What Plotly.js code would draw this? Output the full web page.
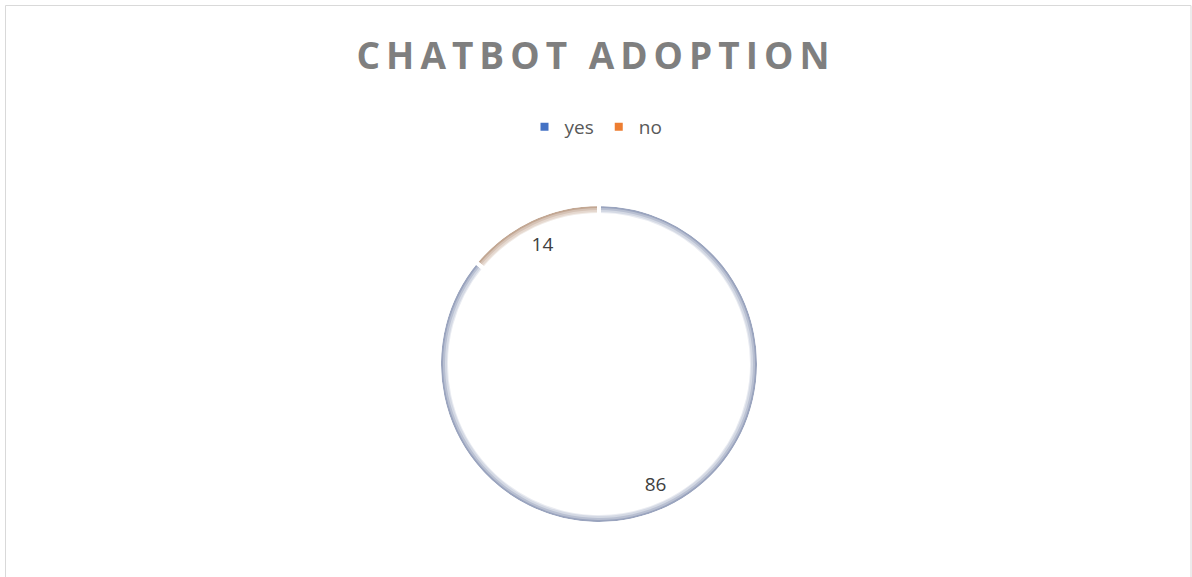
<!DOCTYPE html>
<html>
<head>
<meta charset="utf-8">
<script src="https://cdn.plot.ly/plotly-3.0.1.min.js"></script>
<style>
html,body{margin:0;padding:0;background:#fff;}
#chart{width:1192px;height:577px;}
.gtitle{letter-spacing:6px;}
</style>
</head>
<body>
<div id="chart"></div>
<script>
// Data
const categories = ['yes', 'no'];
const values = [86, 14];
const legendColors = ['#4472c4', '#ed7d31'];
const chartTitle = 'CHATBOT ADOPTION';

// Styling
const W = 1192, H = 577;
const cx = 599, cy = 364;
const FONT = 'Open Sans, Arial, sans-serif';
// rim shading layers, outer to inner (no strokes so they do not cover each other)
const layers = [
  {r: 158, colors: ['#9aa4be', '#c2a793']},
  {r: 156, colors: ['#b9c0d2', '#d6c3b6']},
  {r: 154, colors: ['#d4d9e4', '#e5d8cf']},
  {r: 152, colors: ['#eaecf2', '#f1ebe6']}
];
function dom(r) {
  return {x: [(cx - r) / W, (cx + r) / W], y: [(H - cy - r) / H, (H - cy + r) / H]};
}
const base = {
  type: 'pie', labels: categories, values: values, sort: false,
  direction: 'clockwise', rotation: 0, hoverinfo: 'skip'
};

const data = [];
// legend carrier (hidden under the shaded layers)
data.push(Object.assign({}, base, {
  showlegend: true,
  marker: {colors: legendColors, line: {color: '#ffffff', width: 4}},
  textinfo: 'none',
  domain: dom(3)
}));
// shaded rim layers
layers.forEach(L => {
  data.push(Object.assign({}, base, {
    showlegend: false,
    marker: {colors: L.colors, line: {width: 0}},
    textinfo: 'none',
    domain: dom(L.r)
  }));
});
// white interior with white gap lines
data.push(Object.assign({}, base, {
  showlegend: false,
  marker: {colors: ['#ffffff', '#ffffff'], line: {color: '#ffffff', width: 4}},
  textinfo: 'none',
  domain: dom(149)
}));
// value labels + white gap lines through the rim
data.push(Object.assign({}, base, {
  showlegend: false,
  hole: 0.66,
  marker: {colors: ['rgba(0,0,0,0)', 'rgba(0,0,0,0)'], line: {color: '#ffffff', width: 4}},
  textinfo: 'value',
  textposition: 'inside',
  insidetextorientation: 'horizontal',
  textfont: {family: FONT, size: 19, color: '#404040'},
  domain: dom(160)
}));

const layout = {
  width: W, height: H,
  margin: {l: 0, r: 0, t: 0, b: 0},
  paper_bgcolor: '#ffffff',
  title: {
    text: '<b>' + chartTitle + '</b>',
    font: {family: FONT, size: 37, color: '#7f7f7f'},
    x: 0.5, xanchor: 'center',
    y: (H - 56) / H, yanchor: 'middle'
  },
  showlegend: true,
  legend: {
    orientation: 'h',
    x: 0.5, xanchor: 'center',
    y: (H - 127) / H, yanchor: 'middle',
    font: {family: FONT, size: 19, color: '#595959'},
    bgcolor: 'rgba(0,0,0,0)'
  },
  shapes: [{
    type: 'rect', xref: 'paper', yref: 'paper',
    x0: 5.5 / W, x1: 1191 / W, y0: -0.05, y1: (H - 5.5) / H,
    line: {color: '#d9d9d9', width: 1}, fillcolor: 'rgba(0,0,0,0)'
  }]
};

Plotly.newPlot('chart', data, layout, {displayModeBar: false});
</script>
</body>
</html>
